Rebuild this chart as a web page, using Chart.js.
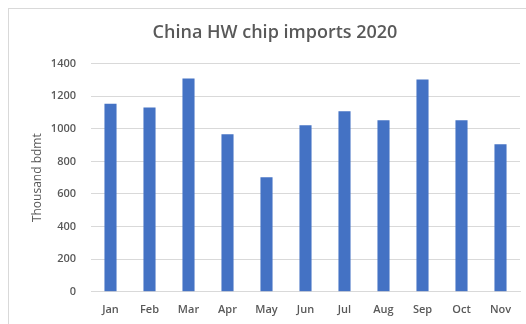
<!DOCTYPE html>
<html>
<head>
<meta charset="utf-8">
<script src="https://cdn.jsdelivr.net/npm/chart.js@4"></script>
<style>
  html, body { margin: 0; padding: 0; background: #fff; }
  #wrap { position: relative; width: 526px; height: 324px; overflow: hidden; }
  #frame { position: absolute; left: 8px; top: 8px; width: 600px; height: 400px;
           border-left: 1px solid #d9d9d9; border-top: 1px solid #d9d9d9; }
  canvas { position: absolute; left: 0; top: 0; }
</style>
</head>
<body>
<div id="wrap">
  <div id="frame"></div>
  <canvas id="chart" width="526" height="324"></canvas>
</div>
<script>
// Chart data
const months = ['Jan', 'Feb', 'Mar', 'Apr', 'May', 'Jun', 'Jul', 'Aug', 'Sep', 'Oct', 'Nov'];
const imports = [1154, 1131, 1308, 967, 702, 1022, 1108, 1053, 1303, 1053, 905];
const yTicks = [0, 200, 400, 600, 800, 1000, 1200, 1400];

const textColor = '#595959';

new Chart(document.getElementById('chart'), {
  type: 'bar',
  data: {
    labels: months,
    datasets: [{
      label: 'Imports',
      data: imports,
      backgroundColor: '#4472C4',
      borderWidth: 0,
      categoryPercentage: 1,
      barPercentage: 0.31
    }]
  },
  options: {
    responsive: false,
    animation: false,
    layout: { padding: { left: 30, right: 6, top: 14, bottom: 5 } },
    plugins: {
      legend: { display: false },
      tooltip: { enabled: false },
      title: {
        display: true,
        text: 'China HW chip imports 2020',
        color: textColor,
        font: { family: 'Open Sans', size: 18, weight: '600' },
        padding: { top: 8, bottom: 20 }
      }
    },
    scales: {
      x: {
        grid: { display: false },
        border: { color: '#d9d9d9' },
        ticks: {
          color: textColor,
          font: { family: 'Open Sans', size: 11, weight: '600' },
          padding: 3
        }
      },
      y: {
        min: 0,
        max: 1400,
        afterBuildTicks: axis => { axis.ticks = yTicks.map(v => ({ value: v })); },
        afterFit: axis => { axis.width = 61; },
        grid: { color: '#d9d9d9', drawTicks: false },
        border: { display: false },
        ticks: {
          color: textColor,
          font: { family: 'Open Sans', size: 11, weight: '600' },
          padding: 15,
          callback: v => String(v)
        },
        title: {
          display: true,
          text: 'Thousand bdmt',
          color: textColor,
          font: { family: 'Open Sans', size: 12 },
          padding: 0
        }
      }
    }
  }
});
</script>
</body>
</html>
